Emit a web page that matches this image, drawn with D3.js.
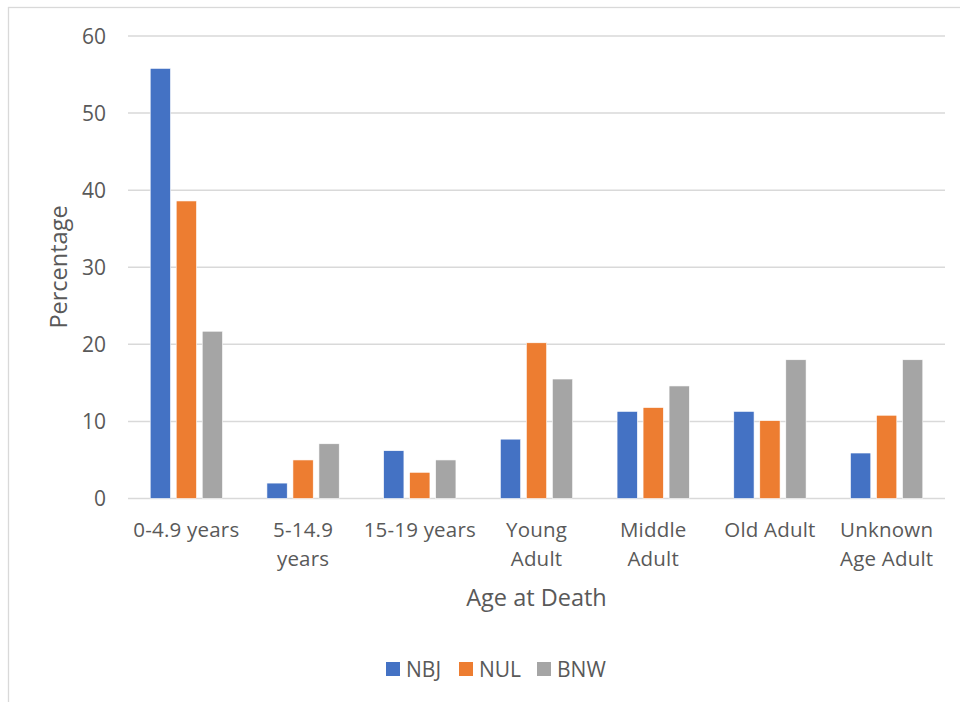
<!DOCTYPE html>
<html>
<head>
<meta charset="utf-8">
<script src="https://cdn.jsdelivr.net/npm/d3@7"></script>
<style>
  html, body { margin: 0; padding: 0; background: #fff; }
  svg { display: block; }
  text { font-family: "Open Sans", "Noto Sans", sans-serif; fill: #595959; }
</style>
</head>
<body>
<svg id="chart" width="960" height="702"></svg>
<script>
// Age groups on the x axis
const categories = ["0-4.9 years", "5-14.9 years", "15-19 years", "Young Adult", "Middle Adult", "Old Adult", "Unknown Age Adult"];
// Wrapped label lines for each age group
const categoryLines = [["0-4.9 years"], ["5-14.9", "years"], ["15-19 years"], ["Young", "Adult"], ["Middle", "Adult"], ["Old Adult"], ["Unknown", "Age Adult"]];
// Percentage at death per site
const seriesNames = ["NBJ", "NUL", "BNW"];
const nbj = [55.8, 2.0, 6.2, 7.7, 11.3, 11.3, 5.9];
const nul = [38.6, 5.0, 3.4, 20.2, 11.8, 10.1, 10.8];
const bnw = [21.7, 7.1, 5.0, 15.5, 14.6, 18.0, 18.0];
const yTicks = [0, 10, 20, 30, 40, 50, 60];
const colors = ["#4472C4", "#ED7D31", "#A5A5A5"];

const seriesValues = [nbj, nul, bnw];
const rows = categories.map((c, i) => ({
  category: c,
  values: seriesNames.map((s, j) => ({ series: s, value: seriesValues[j][i] }))
}));

const svg = d3.select("#chart");

// Chart frame
svg.append("rect")
  .attr("x", 8.5).attr("y", 7.5)
  .attr("width", 960).attr("height", 700)
  .attr("fill", "#fff").attr("stroke", "#D9D9D9").attr("stroke-width", 1.3);

const plot = { left: 128, right: 945, top: 36, bottom: 498.5 };

const x0 = d3.scaleBand().domain(categories).range([plot.left, plot.right]).padding(0);
const groupWidth = 72.3;
const x1 = d3.scaleBand().domain(seriesNames)
  .range([(x0.bandwidth() - groupWidth) / 2, (x0.bandwidth() + groupWidth) / 2])
  .paddingInner(0.22).paddingOuter(0);
const y = d3.scaleLinear().domain([0, 60]).range([plot.bottom, plot.top]);

// Horizontal gridlines
svg.append("g")
  .selectAll("line")
  .data(yTicks)
  .join("line")
  .attr("x1", plot.left).attr("x2", plot.right)
  .attr("y1", d => y(d)).attr("y2", d => y(d))
  .attr("stroke", "#D9D9D9").attr("stroke-width", 1.5);

// Y axis tick labels
const yAxis = svg.append("g")
  .attr("transform", `translate(${plot.left - 22},0)`)
  .call(d3.axisLeft(y).tickValues(yTicks).tickSize(0).tickPadding(0));
yAxis.select(".domain").remove();
yAxis.selectAll("text")
  .attr("font-size", 21)
  .attr("fill", "#595959")
  .attr("dy", "0.35em")
  .style("font-family", "'Open Sans', sans-serif");

// Bars
const groups = svg.append("g")
  .selectAll("g")
  .data(rows)
  .join("g")
  .attr("transform", d => `translate(${x0(d.category)},0)`);

groups.selectAll("rect")
  .data(d => d.values)
  .join("rect")
  .attr("x", d => x1(d.series))
  .attr("width", x1.bandwidth())
  .attr("y", d => y(d.value))
  .attr("height", d => y(0) - y(d.value))
  .attr("fill", (d, i) => colors[i])
  .attr("stroke", "#fff").attr("stroke-width", 0.6);

// X axis category labels
const xAxis = svg.append("g")
  .attr("transform", `translate(0,${plot.bottom})`)
  .call(d3.axisBottom(x0).tickSize(0).tickFormat(""));
xAxis.select(".domain").remove();
xAxis.selectAll(".tick").each(function (d, i) {
  const t = d3.select(this).append("text")
    .attr("text-anchor", "middle")
    .attr("font-size", 20.5)
    .attr("letter-spacing", 0.2)
    .attr("fill", "#595959")
    .style("font-family", "'Open Sans', sans-serif");
  categoryLines[i].forEach((line, k) => {
    t.append("tspan").attr("x", 0).attr("y", 38.5 + k * 29).text(line);
  });
});

// Axis titles
svg.append("text")
  .attr("x", (plot.left + plot.right) / 2).attr("y", 606)
  .attr("text-anchor", "middle").attr("font-size", 23.5)
  .text("Age at Death");

svg.append("text")
  .attr("transform", "translate(67,267) rotate(-90)")
  .attr("text-anchor", "middle").attr("font-size", 23.5)
  .text("Percentage");

// Legend
const legendX = [386, 459, 537];
const legend = svg.append("g")
  .selectAll("g")
  .data(seriesNames)
  .join("g")
  .attr("transform", (d, i) => `translate(${legendX[i]},662)`);
legend.append("rect")
  .attr("width", 14).attr("height", 14)
  .attr("fill", (d, i) => colors[i]);
legend.append("text")
  .attr("x", 20).attr("y", 14.5)
  .attr("font-size", 21)
  .text(d => d);
</script>
</body>
</html>
